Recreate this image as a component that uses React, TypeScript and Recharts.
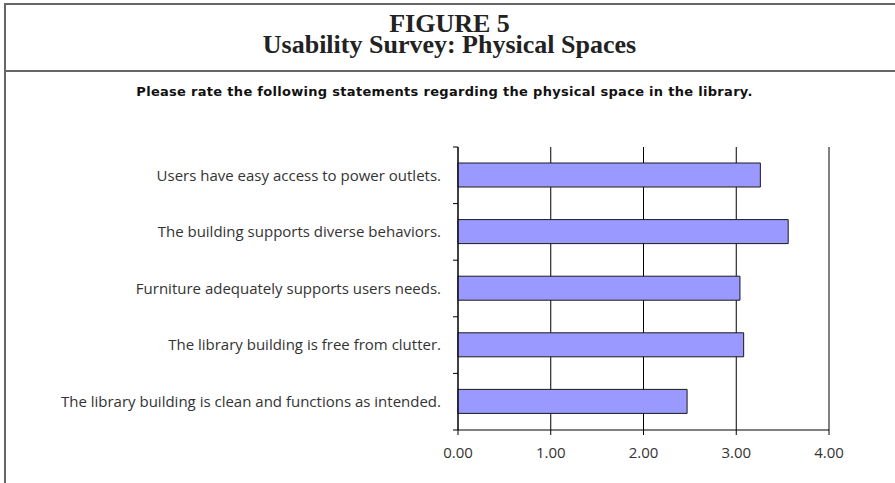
import { BarChart, Bar, XAxis, YAxis, CartesianGrid } from 'recharts';

const statements = [
  'Users have easy access to power outlets.',
  'The building supports diverse behaviors.',
  'Furniture adequately supports users needs.',
  'The library building is free from clutter.',
  'The library building is clean and functions as intended.',
];
const ratings = [3.26, 3.56, 3.04, 3.08, 2.47];
const xTicks = [0, 1, 2, 3, 4];

const data = statements.map((name, i) => ({ name, rating: ratings[i] }));

const LABEL_FONT = '"Open Sans", sans-serif';
const Y_TICK_SIZE = 5;
const Y_TICK_MARGIN = 12;

// category labels sit mid-band, but the little tick marks go on band edges (like Excel)
function StatementTick(props: any) {
  const { x, y, payload, index } = props;
  const half = payload.offset ?? 28;
  const axisX = x + Y_TICK_SIZE + Y_TICK_MARGIN;
  return (
    <g>
      <text x={x} y={y} dy="0.35em" textAnchor="end" fill="#333" fontSize={15} fontFamily={LABEL_FONT}>
        {payload.value}
      </text>
      {index === 0 && (
        <line x1={axisX - Y_TICK_SIZE} x2={axisX} y1={y - half} y2={y - half} stroke="#000" />
      )}
      <line x1={axisX - Y_TICK_SIZE} x2={axisX} y1={y + half} y2={y + half} stroke="#000" />
    </g>
  );
}

export default function App() {
  return (
    <div style={{ position: 'absolute', left: 0, top: 0, width: 895, height: 483, background: '#fff', overflow: 'hidden' }}>
      <div style={{ position: 'absolute', left: 4, top: 3, width: 900, height: 500, borderLeft: '2px solid #666', borderTop: '2px solid #666' }} />
      <div style={{ position: 'absolute', left: 4, top: 70, width: 900, height: 2, background: '#666' }} />
      <div
        style={{
          position: 'absolute',
          left: 4,
          top: 13,
          width: 891,
          textAlign: 'center',
          fontFamily: '"Liberation Serif", serif',
          fontWeight: 'bold',
          fontSize: 26,
          lineHeight: '21px',
          color: '#222',
        }}
      >
        FIGURE 5
        <br />
        Usability Survey: Physical Spaces
      </div>
      <div style={{ position: 'absolute', left: 0, top: 84, width: 889, textAlign: 'center', fontFamily: '"DejaVu Sans", sans-serif', fontWeight: 'bold', fontSize: 13, letterSpacing: 0.3, lineHeight: '16px', color: '#111' }}>
        Please rate the following statements regarding the physical space in the library.
      </div>
      <div style={{ position: 'absolute', left: 0, top: 0 }}>
        <BarChart
          width={895}
          height={483}
          data={data}
          layout="vertical"
          margin={{ top: 147, right: 66, bottom: 0, left: 0 }}
          barSize={24}
        >
          <CartesianGrid horizontal={false} stroke="#000" />
          <XAxis
            type="number"
            domain={[0, 4]}
            ticks={xTicks}
            height={53}
            tickSize={5}
            tickMargin={12}
            tickFormatter={(v: number) => v.toFixed(2)}
            axisLine={{ stroke: '#000' }}
            tickLine={{ stroke: '#000' }}
            tick={{ fill: '#333', fontSize: 15, fontFamily: LABEL_FONT }}
          />
          <YAxis
            type="category"
            dataKey="name"
            width={458}
            tickSize={Y_TICK_SIZE}
            tickMargin={Y_TICK_MARGIN}
            tickLine={false}
            axisLine={{ stroke: '#000' }}
            tick={<StatementTick />}
            interval={0}
          />
          <Bar dataKey="rating" fill="#9999ff" stroke="#1a1a1a" strokeWidth={1} isAnimationActive={false} />
        </BarChart>
      </div>
    </div>
  );
}
